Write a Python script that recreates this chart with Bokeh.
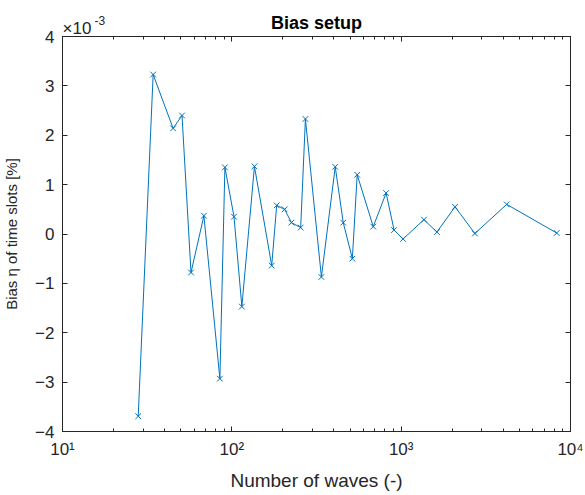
from bokeh.plotting import figure
from bokeh.models import Range1d, FixedTicker, LinearAxis, LogAxis, Title, ColumnDataSource
from bokeh.embed import file_html
from bokeh.resources import INLINE

# Data (bias values in units of 1e-3 %)
n_waves = [28, 34.3, 45, 50.8, 57.4, 68.4, 85, 91, 103, 114.6, 136, 172, 184, 205,
           225, 255, 272, 338, 408, 455, 515, 550, 684, 815, 908, 1026, 1364, 1626,
           2080, 2725, 4200, 8290]
bias_e3 = [-3.69, 3.23, 2.14, 2.40, -0.78, 0.37, -2.93, 1.35, 0.35, -1.47, 1.37, -0.64,
           0.58, 0.50, 0.23, 0.13, 2.33, -0.87, 1.36, 0.23, -0.50, 1.20, 0.15, 0.83,
           0.08, -0.10, 0.29, 0.04, 0.55, 0.01, 0.60, 0.02]
x_major = [10, 100, 1000, 10000]
x_major_labels = ["10\u00b9", "10\u00b2", "10\u00b3", "10\u2074"]
y_ticks = [-4, -3, -2, -1, 0, 1, 2, 3, 4]

FONT = "Liberation Sans"
AX = "#262626"
BLUE = "#0072BD"

x_minor = [m * d for d in [10, 100, 1000] for m in range(2, 10)]

p = figure(width=585, height=495, x_axis_type="log",
           x_range=Range1d(10, 10000), y_range=Range1d(-4, 4),
           output_backend="svg", toolbar_location=None,
           min_border_left=61, min_border_right=15, min_border_top=36, min_border_bottom=64)

src = ColumnDataSource(dict(x=n_waves, y=bias_e3))
p.line("x", "y", source=src, line_color=BLUE, line_width=1)
p.scatter("x", "y", source=src, marker="x", size=8, line_color=BLUE, line_width=1)

p.grid.visible = False
p.background_fill_color = "white"
p.border_fill_color = "white"
p.outline_line_color = AX
p.outline_line_width = 1

def style(ax, labels=True):
    ax.axis_line_color = AX
    ax.major_tick_line_color = AX
    ax.minor_tick_line_color = AX
    ax.major_tick_in = 5
    ax.major_tick_out = 0
    ax.minor_tick_in = 3
    ax.minor_tick_out = 0
    ax.major_label_text_color = AX
    ax.major_label_text_font = FONT
    ax.major_label_text_font_size = "17px" if labels else "1px"
    if not labels:
        ax.major_label_text_alpha = 0
    ax.axis_label_text_color = AX
    ax.axis_label_text_font = FONT
    ax.axis_label_text_font_style = "normal"

xt = FixedTicker(ticks=x_major, minor_ticks=x_minor)
yt = FixedTicker(ticks=y_ticks, minor_ticks=[])

p.xaxis.ticker = xt
p.xaxis.major_label_overrides = {t: l for t, l in zip(x_major, x_major_labels)}
p.yaxis.ticker = yt
p.xaxis.axis_label = "Number of waves (-)"
p.yaxis.axis_label = "Bias \u03b7 of time slots [%]"
style(p.xaxis[0])
style(p.yaxis[0])
p.xaxis.axis_label_text_font_size = "19px"
p.yaxis.axis_label_text_font_size = "15px"
p.xaxis.major_label_standoff = 8
p.yaxis.major_label_standoff = 8
p.xaxis.axis_label_standoff = 8
p.yaxis.axis_label_standoff = 12

top = LogAxis(ticker=FixedTicker(ticks=x_major, minor_ticks=x_minor))
style(top, labels=False)
top.major_label_standoff = 0
right = LinearAxis(ticker=FixedTicker(ticks=y_ticks, minor_ticks=[]))
style(right, labels=False)
right.major_label_standoff = 0
p.add_layout(top, "above")
p.add_layout(right, "right")

# exponent marker (x10^-3) drawn as titles next to the axes box
exp_base = Title(text="\u00d710", align="left", offset=0,
                 text_font=FONT, text_font_size="17px", text_color=AX,
                 text_font_style="normal", standoff=-2)
exp_sup = Title(text="-3", align="left", offset=32,
                text_font=FONT, text_font_size="12px", text_color=AX,
                text_font_style="normal", standoff=-14)
p.add_layout(exp_base, "above")
p.add_layout(exp_sup, "above")

p.title.text = "Bias setup"
p.title.align = "center"
p.title.text_font = FONT
p.title.text_font_size = "18px"
p.title.text_font_style = "bold"
p.title.text_color = "black"
p.title.standoff = -30

open("out.html", "w").write(file_html(p, INLINE))
